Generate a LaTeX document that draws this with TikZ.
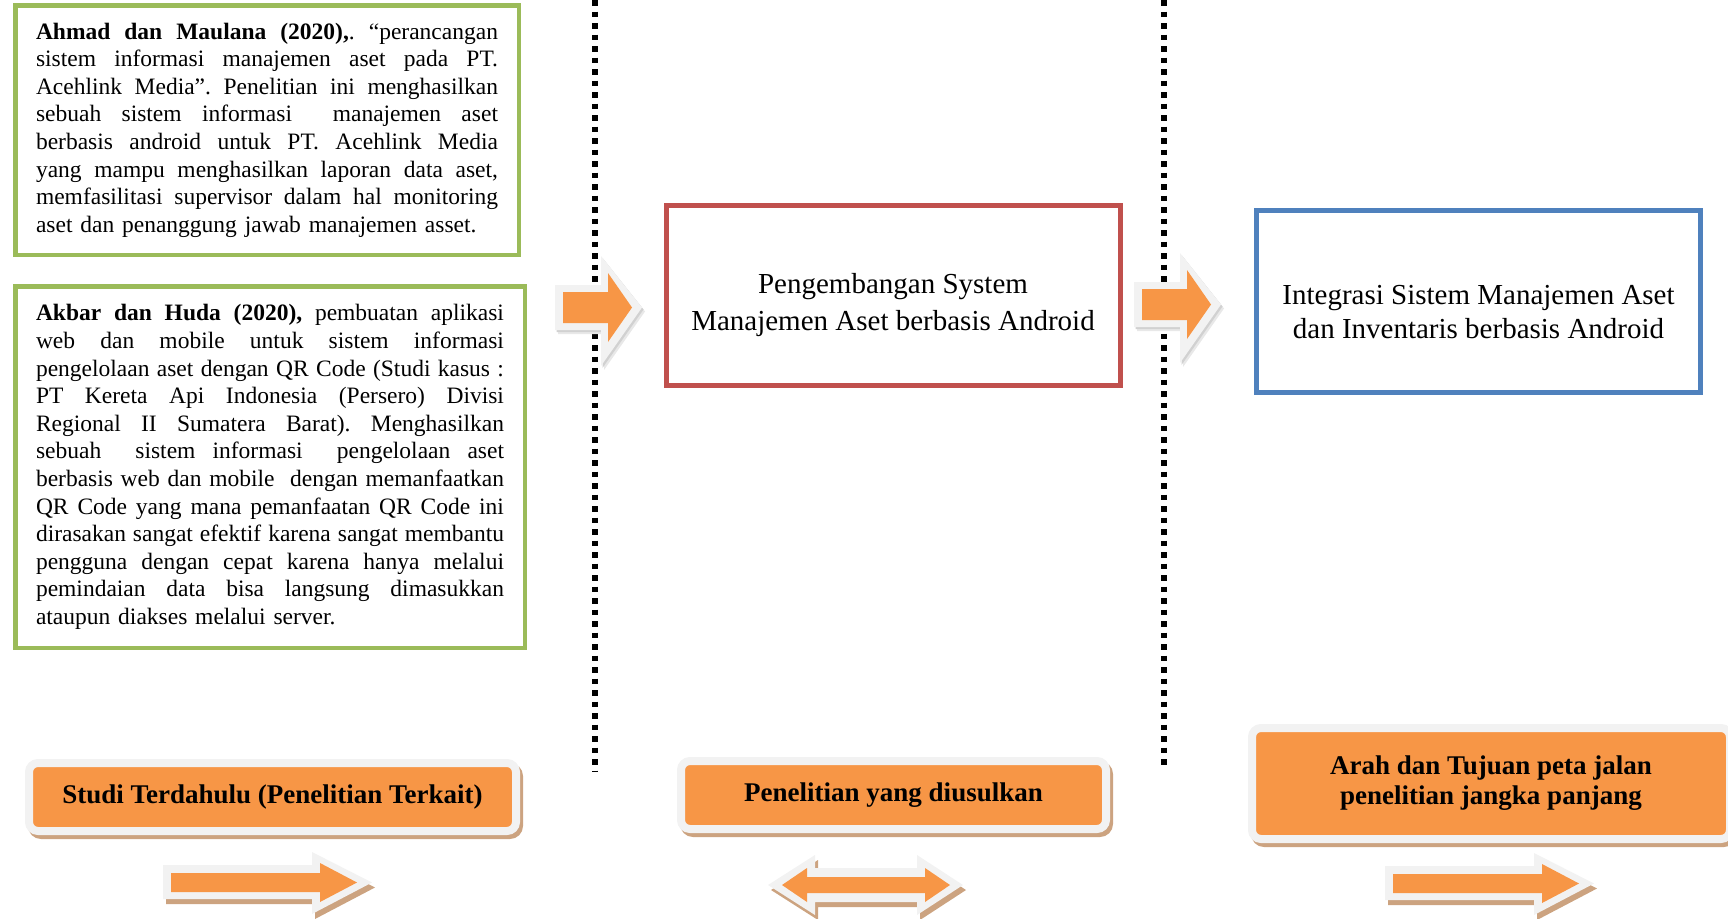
\documentclass[tikz,border=0pt]{standalone}
\usepackage{fontspec}
\setmainfont{Liberation Serif}
\usetikzlibrary{backgrounds}

\definecolor{boxgreen}{HTML}{9BBB59}
\definecolor{boxred}{HTML}{C0504D}
\definecolor{boxblue}{HTML}{4F81BD}
\definecolor{accent}{HTML}{F79646}
\definecolor{rim}{HTML}{F2F2F2}
\definecolor{shadetan}{RGB}{204,163,128}

% fully justified lines of the two reference paragraphs, stacked as boxes
\newskip\jspace
\jspace=5.9pt plus 1fil\relax
\newcommand\jla[1]{\hbox to 462pt{\frenchspacing\spaceskip=\jspace #1}}
\newcommand\jlb[1]{\hbox to 468pt{\frenchspacing\spaceskip=\jspace #1}}
\newcommand\lastline[1]{\hbox{\frenchspacing #1}}

% right-pointing block arrow between the columns
\newcommand\toparrow[1]{%
  \begin{scope}[shift={#1}]
    \fill[black!9]  (558,289) -- (604,289) -- (604,260) -- (645,311.5) -- (604,370) -- (604,334) -- (558,334) -- cycle;
    \fill[black!18] (556.5,287) -- (602.5,287) -- (602.5,258) -- (643.5,309.5) -- (602.5,368) -- (602.5,332) -- (556.5,332) -- cycle;
    \fill[rim] (555,285) -- (601,285) -- (601,256) -- (642,307.5) -- (601,366) -- (601,330) -- (555,330) -- cycle;
    \fill[accent] (563,292) -- (608,292) -- (608,273) -- (632,307.5) -- (608,342) -- (608,323) -- (563,323) -- cycle;
  \end{scope}}

% small right-pointing arrow under a column
\newcommand\fwdarrow[1]{%
  \begin{scope}[shift={#1}]
    \fill[shadetan] (166,870) -- (315,870) -- (315,857) -- (375,887.5) -- (315,919) -- (315,904) -- (166,904) -- cycle;
    \fill[rim] (163,865) -- (312,865) -- (312,852) -- (372,882.5) -- (312,914) -- (312,899) -- (163,899) -- cycle;
    \fill[accent] (171,873) -- (320,873) -- (320,863) -- (357,882.5) -- (320,902) -- (320,892) -- (171,892) -- cycle;
  \end{scope}}

\begin{document}
\begin{tikzpicture}[x=1pt, y=-1pt,
  every node/.style={inner sep=0pt},
  divider/.style={line width=5.5pt, dash pattern=on 5.5pt off 6pt},
  refbox/.style={draw=boxgreen, line width=4.5pt, inner xsep=20.75pt, inner ysep=0pt,
    font=\fontsize{23.5}{27.6}\selectfont},
  idea/.style={line width=5pt},
  ideatext/.style={align=center},
  tag/.style={fill=accent, draw=rim, line width=8pt, rounded corners=9pt, align=center,
    font=\bfseries\fontsize{27}{30}\selectfont},
  tagshadow/.style={fill=shadetan, rounded corners=13pt}
]
\useasboundingbox (0,0) rectangle (1728,918);

% column dividers
\coordinate (d1top) at (595,0);
\coordinate (d1bot) at (595,771);
\coordinate (d2top) at (1164,0);
\coordinate (d2bot) at (1164,766);
\draw[divider] (d1top) -- (d1bot);
\draw[divider] (d2top) -- (d2bot);

% related work
\node[refbox, text width=462pt, minimum height=249.5pt] (ref1) at (267,130) {%
\jla{\textbf{Ahmad dan Maulana (2020),}. “perancangan}
\jla{sistem informasi manajemen aset pada PT.}
\jla{Acehlink Media”. Penelitian ini menghasilkan}
\jla{sebuah sistem informasi\ \ manajemen aset}
\jla{berbasis android untuk PT. Acehlink Media}
\jla{yang mampu menghasilkan laporan data aset,}
\jla{memfasilitasi supervisor dalam hal monitoring}
\lastline{aset dan penanggung jawab manajemen asset.}};

\node[refbox, text width=468pt, minimum height=361.5pt] (ref2) at (270,467) {%
\jlb{\textbf{Akbar dan Huda (2020),} pembuatan aplikasi}
\jlb{web dan mobile untuk sistem informasi}
\jlb{pengelolaan aset dengan QR Code (Studi kasus :}
\jlb{PT Kereta Api Indonesia (Persero) Divisi}
\jlb{Regional II Sumatera Barat). Menghasilkan}
\jlb{sebuah\ \ sistem informasi\ \ pengelolaan aset}
\jlb{berbasis web dan mobile\ \ dengan memanfaatkan}
\jlb{QR Code yang mana pemanfaatan QR Code ini}
\jlb{dirasakan sangat efektif karena sangat membantu}
\jlb{pengguna dengan cepat karena hanya melalui}
\jlb{pemindaian data bisa langsung dimasukkan}
\lastline{ataupun diakses melalui server.}};

% proposed research
\node[idea, draw=boxred, minimum width=454pt, minimum height=180pt] (proposed) at (893.5,295.5) {};
\node[ideatext, font=\fontsize{29}{37}\selectfont] (proposedtext) at (893,305)
  {Pengembangan System\\Manajemen Aset berbasis Android};

% long-term goal
\node[idea, draw=boxblue, minimum width=444pt, minimum height=182pt] (goal) at (1478.5,301.5) {};
\node[ideatext, font=\fontsize{29}{34}\selectfont] (goaltext) at (1478.5,312)
  {Integrasi Sistem Manajemen Aset\\dan Inventaris berbasis Android};

% arrows across the dividers
\toparrow{(0,0)}
\toparrow{(579,-3)}

% column headings
\node[tag, minimum width=487pt, minimum height=68pt] (tagA) at (272.5,797) {Studi Terdahulu (Penelitian Terkait)};
\node[tag, minimum width=425pt, minimum height=68pt] (tagB) at (893.5,795) {Penelitian yang diusulkan};
\node[tag, minimum width=478pt, minimum height=111pt] (tagC) at (1491,783.5) {Arah dan Tujuan peta jalan\\penelitian jangka panjang};
\begin{scope}[on background layer]
  \fill[tagshadow] ([shift={(3,4)}]tagA.north west) rectangle ([shift={(3,4)}]tagA.south east);
  \fill[tagshadow] ([shift={(3,4)}]tagB.north west) rectangle ([shift={(3,4)}]tagB.south east);
  \fill[tagshadow] ([shift={(3,4)}]tagC.north west) rectangle ([shift={(3,4)}]tagC.south east);
\end{scope}

% arrows under the headings
\fwdarrow{(0,0)}
\fwdarrow{(1222,1)}
\fill[shadetan] (771,890) -- (818,860) -- (818,873) -- (920,873) -- (920,860) -- (966,890) -- (920,920) -- (920,907) -- (818,907) -- (818,920) -- cycle;
\fill[rim] (768,885) -- (815,855) -- (815,868) -- (917,868) -- (917,855) -- (963,885) -- (917,915) -- (917,902) -- (815,902) -- (815,915) -- cycle;
\fill[accent] (782,885) -- (807,868) -- (807,877) -- (925,877) -- (925,868) -- (950,885) -- (925,902) -- (925,893) -- (807,893) -- (807,902) -- cycle;
\end{tikzpicture}
\end{document}
